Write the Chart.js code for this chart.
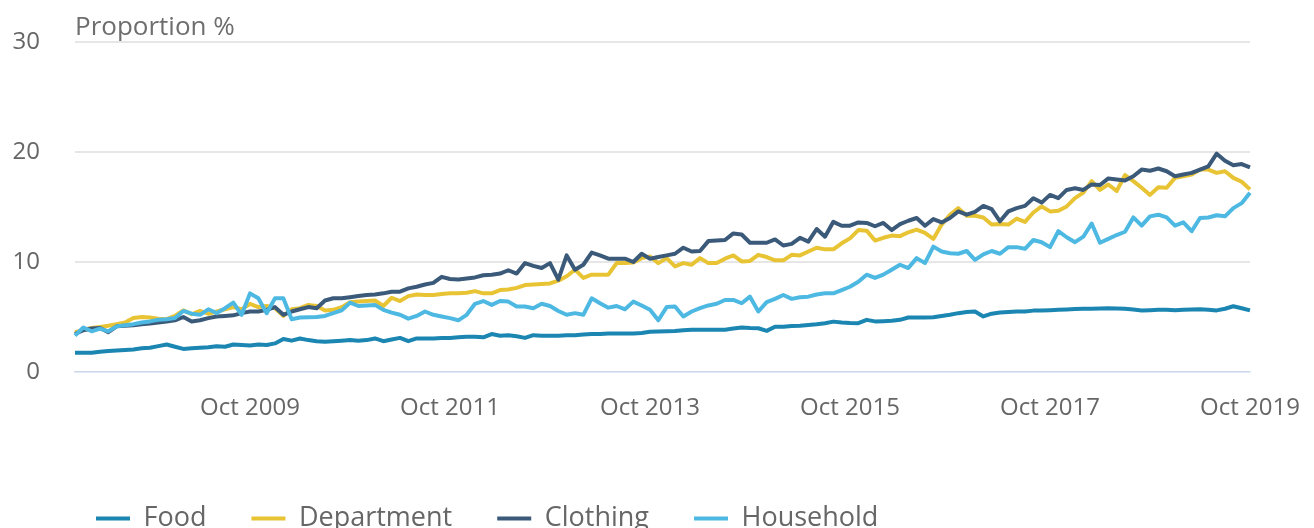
<!DOCTYPE html>
<html>
<head>
<meta charset="utf-8">
<script src="https://cdn.jsdelivr.net/npm/chart.js@4.4.1/dist/chart.umd.min.js"></script>
<style>
  html, body { margin: 0; padding: 0; background: #fff; }
  #wrap { width: 1314px; height: 528px; position: relative; }
</style>
</head>
<body>
<div id="wrap"><canvas id="salesChart"></canvas></div>
<script>
// monthly categories, Jan 2008 to Oct 2019
const monthNames = ['Jan', 'Feb', 'Mar', 'Apr', 'May', 'Jun', 'Jul', 'Aug', 'Sep', 'Oct', 'Nov', 'Dec'];
const labels = [];
for (let y = 2008; y <= 2019; y++) {
    for (let m = 0; m < 12; m++) {
        if (y === 2019 && m > 9) break;
        labels.push(monthNames[m] + ' ' + y);
    }
}
const tickLabels = ['Oct 2009', 'Oct 2011', 'Oct 2013', 'Oct 2015', 'Oct 2017', 'Oct 2019'];

const food = [
    1.75, 1.75, 1.75, 1.85, 1.9, 1.95, 2.0, 2.05, 2.15, 2.2, 2.35, 2.5,
    2.3, 2.1, 2.15, 2.2, 2.25, 2.35, 2.3, 2.5, 2.45, 2.4, 2.5, 2.45,
    2.6, 3.0, 2.85, 3.05, 2.9, 2.8, 2.75, 2.8, 2.85, 2.9, 2.85, 2.9,
    3.05, 2.8, 2.95, 3.1, 2.8, 3.05, 3.05, 3.05, 3.1, 3.1, 3.15, 3.2,
    3.2, 3.15, 3.45, 3.3, 3.35, 3.25, 3.1, 3.35, 3.3, 3.3, 3.3, 3.35,
    3.35, 3.4, 3.45, 3.45, 3.5, 3.5, 3.5, 3.5, 3.55, 3.65, 3.68, 3.7,
    3.72, 3.8, 3.83, 3.83, 3.83, 3.85, 3.85, 3.95, 4.04, 4.0, 3.98, 3.74,
    4.12, 4.12, 4.18, 4.2, 4.28, 4.35, 4.44, 4.58, 4.5, 4.45, 4.44, 4.74,
    4.6, 4.62, 4.65, 4.74, 4.95, 4.95, 4.95, 4.98, 5.1, 5.2, 5.35, 5.45,
    5.5, 5.05, 5.3, 5.4, 5.45, 5.5, 5.5, 5.58, 5.6, 5.62, 5.65, 5.68,
    5.72, 5.75, 5.75, 5.78, 5.8, 5.78, 5.75, 5.68, 5.6, 5.62, 5.65, 5.65,
    5.62, 5.65, 5.68, 5.7, 5.65, 5.6, 5.75, 5.98, 5.8, 5.6
];
const department = [
    3.6, 3.85, 4.0, 4.1, 4.2, 4.35, 4.5, 4.9, 5.0, 4.95, 4.85, 4.8,
    5.1, 5.6, 5.25, 5.55, 5.3, 5.5, 5.7, 5.9, 5.7, 6.2, 5.9, 6.0,
    5.8, 5.1, 5.7, 5.8, 6.1, 6.0, 5.6, 5.65, 5.9, 6.35, 6.4, 6.45,
    6.5, 6.0, 6.75, 6.45, 6.9, 7.05, 7.0, 7.0, 7.1, 7.15, 7.15, 7.2,
    7.35, 7.15, 7.15, 7.45, 7.5, 7.65, 7.9, 7.95, 8.0, 8.05, 8.3, 8.7,
    9.3, 8.55, 8.85, 8.85, 8.85, 9.9, 9.9, 9.95, 10.35, 10.5, 9.9, 10.35,
    9.6, 9.9, 9.75, 10.35, 9.9, 9.9, 10.3, 10.6, 10.05, 10.1, 10.65, 10.45,
    10.15, 10.15, 10.65, 10.6, 10.95, 11.3, 11.15, 11.15, 11.7, 12.15, 12.9, 12.85,
    11.95, 12.2, 12.4, 12.35, 12.7, 12.95, 12.65, 12.1, 13.4, 14.3, 14.9, 14.2,
    14.2, 14.05, 13.4, 13.45, 13.4, 13.95, 13.65, 14.5, 15.05, 14.6, 14.65, 15.05,
    15.8, 16.3, 17.35, 16.55, 17.05, 16.45, 17.9, 17.35, 16.75, 16.1, 16.8, 16.75,
    17.65, 17.8, 17.95, 18.4, 18.4, 18.1, 18.25, 17.65, 17.3, 16.6
];
const clothing = [
    3.45, 3.8, 3.95, 4.0, 3.62, 4.15, 4.2, 4.25, 4.35, 4.4, 4.5, 4.6,
    4.7, 5.0, 4.6, 4.7, 4.9, 5.05, 5.1, 5.15, 5.35, 5.5, 5.5, 5.65,
    5.9, 5.2, 5.5, 5.7, 5.9, 5.8, 6.5, 6.7, 6.7, 6.8, 6.9, 7.0,
    7.05, 7.15, 7.3, 7.3, 7.6, 7.75, 7.95, 8.1, 8.65, 8.45, 8.4, 8.5,
    8.6, 8.8, 8.85, 8.95, 9.25, 8.95, 9.9, 9.65, 9.45, 9.9, 8.4, 10.6,
    9.3, 9.75, 10.85, 10.6, 10.3, 10.3, 10.3, 10.0, 10.75, 10.3, 10.45, 10.6,
    10.75, 11.3, 10.95, 11.0, 11.9, 11.95, 12.0, 12.6, 12.5, 11.75, 11.75, 11.75,
    12.05, 11.5, 11.65, 12.2, 11.85, 13.0, 12.3, 13.65, 13.3, 13.3, 13.6, 13.55,
    13.25, 13.55, 12.9, 13.45, 13.75, 14.0, 13.3, 13.9, 13.6, 14.0, 14.6, 14.3,
    14.55, 15.1, 14.8, 13.7, 14.6, 14.9, 15.1, 15.8, 15.4, 16.1, 15.8, 16.55,
    16.7, 16.55, 17.05, 17.0, 17.6, 17.5, 17.4, 17.8, 18.4, 18.3, 18.5, 18.25,
    17.8, 17.95, 18.1, 18.4, 18.7, 19.85, 19.2, 18.8, 18.9, 18.6
];
const household = [
    3.3, 4.05, 3.7, 3.95, 3.7, 4.15, 4.25, 4.35, 4.5, 4.6, 4.75, 4.8,
    4.9, 5.55, 5.3, 5.2, 5.7, 5.35, 5.8, 6.3, 5.2, 7.15, 6.7, 5.35,
    6.7, 6.7, 4.8, 4.95, 4.97, 5.0, 5.1, 5.35, 5.6, 6.3, 6.0, 6.05,
    6.1, 5.65, 5.4, 5.2, 4.85, 5.1, 5.5, 5.2, 5.05, 4.9, 4.7, 5.2,
    6.2, 6.45, 6.1, 6.45, 6.4, 5.95, 5.95, 5.8, 6.2, 6.0, 5.55, 5.2,
    5.35, 5.2, 6.7, 6.25, 5.85, 6.0, 5.7, 6.4, 6.05, 5.65, 4.7, 5.9,
    5.95, 5.05, 5.5, 5.8, 6.05, 6.2, 6.55, 6.55, 6.25, 6.85, 5.5, 6.35,
    6.65, 7.0, 6.65, 6.8, 6.85, 7.05, 7.15, 7.15, 7.45, 7.75, 8.2, 8.85,
    8.55, 8.85, 9.3, 9.75, 9.45, 10.35, 9.9, 11.4, 10.95, 10.8, 10.75, 11.0,
    10.2, 10.7, 11.0, 10.75, 11.35, 11.35, 11.2, 12.0, 11.8, 11.35, 12.8, 12.25,
    11.8, 12.3, 13.5, 11.75, 12.1, 12.45, 12.75, 14.05, 13.3, 14.15, 14.3, 14.05,
    13.3, 13.6, 12.8, 14.0, 14.05, 14.25, 14.15, 14.9, 15.35, 16.3
];

const FONT = "'Open Sans', sans-serif";
const TEXT = '#666666';

// move the legend under the plot, starting near the left edge
const legendNudge = {
    id: 'legendNudge',
    afterLayout(chart) {
        chart.legend.left = 51;
        chart.legend.top += 14;
    }
};

function line(label, data, color, order) {
    return {
        label: label,
        data: data,
        borderColor: color,
        backgroundColor: color,
        borderWidth: 4,
        pointRadius: 0,
        pointHoverRadius: 0,
        pointStyle: 'line',
        tension: 0,
        fill: false,
        borderJoinStyle: 'round',
        order: order
    };
}

const ctx = document.getElementById('salesChart');
new Chart(ctx, {
    type: 'line',
    data: {
        labels: labels,
        datasets: [
            line('Food', food, '#1a86b1', 4),
            line('Department', department, '#e8c435', 3),
            line('Clothing', clothing, '#3b5a7a', 2),
            line('Household', household, '#4db9e2', 1)
        ]
    },
    plugins: [legendNudge],
    options: {
        responsive: true,
        maintainAspectRatio: false,
        animation: false,
        events: [],
        layout: { padding: { left: 0, right: 64, top: 0, bottom: 0 } },
        plugins: {
            tooltip: { enabled: false },
            title: {
                display: true,
                text: 'Proportion %',
                align: 'start',
                fullSize: false,
                color: '#6e6e6e',
                font: { family: FONT, size: 26, weight: 'normal', lineHeight: 1 },
                padding: { top: 15, bottom: 1 }
            },
            legend: {
                position: 'bottom',
                align: 'start',
                labels: {
                    usePointStyle: true,
                    pointStyleWidth: 34,
                    padding: 45,
                    color: TEXT,
                    font: { family: FONT, size: 27 },
                    sort: (a, b) => a.datasetIndex - b.datasetIndex
                }
            }
        },
        scales: {
            x: {
                type: 'category',
                afterFit: (scale) => { scale.height = 74; },
                border: { display: true, color: '#ccd6eb', width: 1.5 },
                grid: {
                    drawOnChartArea: false,
                    drawTicks: true,
                    tickLength: 10,
                    color: (c) => tickLabels.includes(labels[c.index]) ? '#ccd6eb' : 'rgba(0,0,0,0)',
                    lineWidth: 1.5
                },
                ticks: {
                    autoSkip: false,
                    maxRotation: 0,
                    padding: 12,
                    color: TEXT,
                    font: { family: FONT, size: 24 },
                    callback: (value, index) => tickLabels.includes(labels[index]) ? labels[index] : null
                }
            },
            y: {
                min: 0,
                max: 30,
                afterFit: (scale) => {
                    scale.width = 75;
                    scale.paddingTop = 14;
                    scale.paddingBottom = 14;
                },
                border: { display: false },
                grid: {
                    drawTicks: false,
                    color: (c) => c.tick.value === 0 ? 'rgba(0,0,0,0)' : '#e6e6e6',
                    lineWidth: 2
                },
                ticks: {
                    stepSize: 10,
                    padding: 35,
                    color: TEXT,
                    font: { family: FONT, size: 24 }
                }
            }
        }
    }
});
</script>
</body>
</html>
